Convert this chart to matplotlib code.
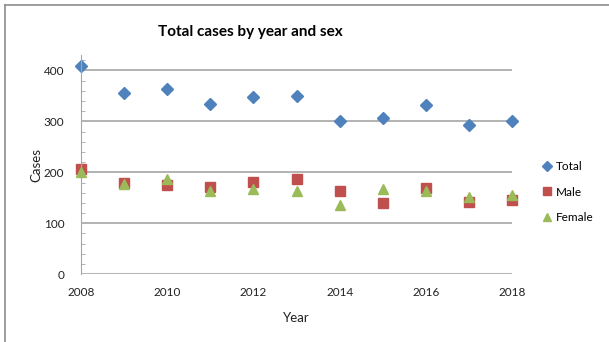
import matplotlib.pyplot as plt
from matplotlib.lines import Line2D
from matplotlib.ticker import MultipleLocator

plt.rcParams['font.family'] = ['Lato', 'DejaVu Sans']

years = [2008, 2009, 2010, 2011, 2012, 2013, 2014, 2015, 2016, 2017, 2018]
total = [408, 355, 363, 334, 348, 350, 300, 306, 332, 293, 300]
male = [206, 179, 175, 171, 181, 187, 163, 139, 170, 142, 145]
female = [200, 177, 187, 164, 168, 164, 136, 168, 164, 152, 156]

fig = plt.figure(figsize=(6.09, 3.42), dpi=100)
ax = fig.add_axes([0.133, 0.198, 0.708, 0.641])

ax.plot(years, total, 'D', color='#4F81BD', ms=6, label='Total', clip_on=False)
ax.plot(years, male, 's', color='#C0504D', ms=6.5, label='Male', clip_on=False)
ax.plot(years, female, '^', color='#9BBB59', ms=7.5, label='Female', clip_on=False)

ax.set_xlim(2008, 2018)
ax.set_ylim(0, 430)
ax.set_xticks(range(2008, 2019, 2))
ax.set_yticks([0, 100, 200, 300, 400])
ax.yaxis.set_minor_locator(MultipleLocator(20))
ax.grid(axis='y', color='#A6A6A6', lw=1.2)
ax.set_axisbelow(True)

for s in ['top', 'right', 'bottom']:
    ax.spines[s].set_visible(False)
ax.spines['left'].set_color('#A6A6A6')
ax.tick_params(axis='x', length=0, pad=9, labelsize=8.5, labelcolor='#222222')
ax.tick_params(axis='y', which='major', length=0, pad=12, labelsize=8.5,
               labelcolor='#222222')
ax.tick_params(axis='y', which='minor', length=3, direction='in',
               color='#A6A6A6')

ax.set_xlabel('Year', fontsize=9.5, color='#222222', labelpad=10)
ax.set_ylabel('Cases', fontsize=9.5, color='#222222', labelpad=1)

fig.text(250 / 609, 1 - 32 / 342, 'Total cases by year and sex',
         ha='center', va='center', fontsize=11, fontweight='bold')

ax.legend(loc='center left', bbox_to_anchor=(1.04, 0.375), frameon=False,
          fontsize=8.5, handletextpad=0.1, labelspacing=1.2,
          handlelength=1.2, markerscale=0.85)

# outer frame of the chart (left and top edges)
fig.add_artist(Line2D([4.5 / 609, 4.5 / 609], [0, 1 - 4.5 / 342],
                      color='#8C8C8C', lw=1.2, transform=fig.transFigure))
fig.add_artist(Line2D([4.5 / 609, 1], [1 - 4.5 / 342, 1 - 4.5 / 342],
                      color='#8C8C8C', lw=1.2, transform=fig.transFigure))

fig.savefig('out.png', dpi=100)
